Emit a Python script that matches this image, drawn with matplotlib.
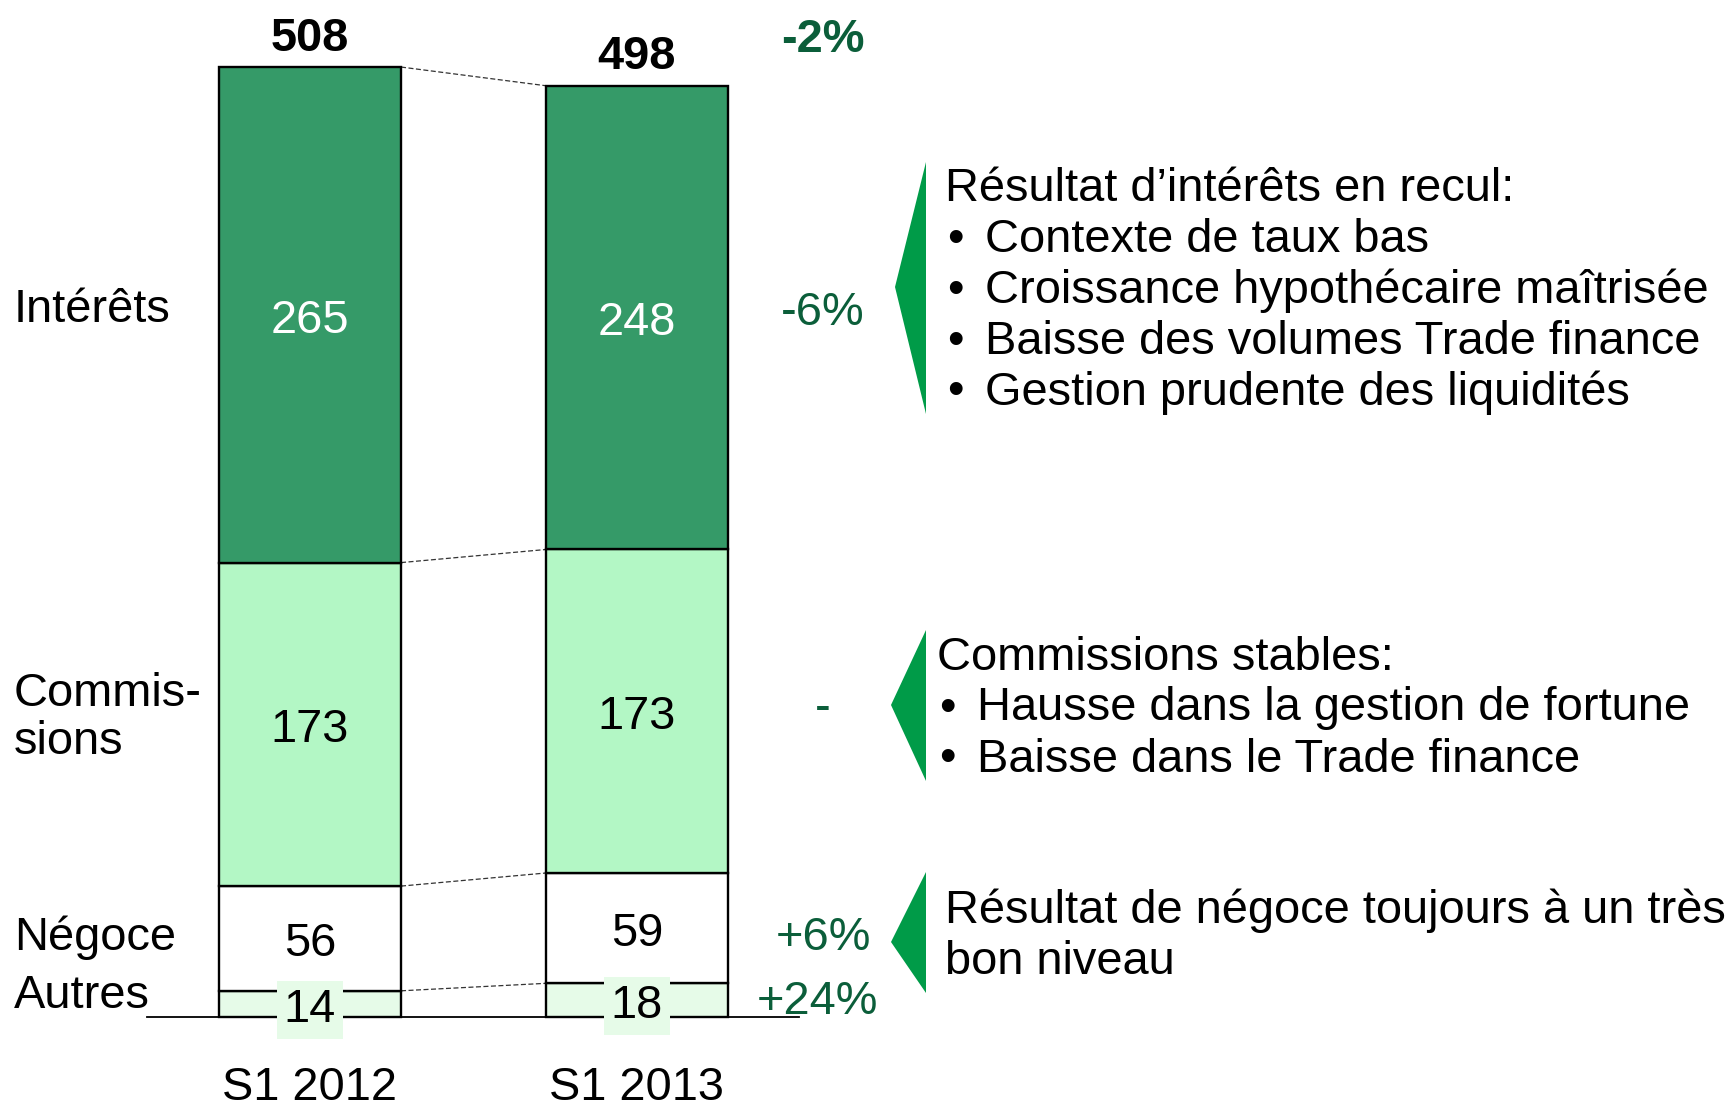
import matplotlib
matplotlib.use("Agg")
import matplotlib.pyplot as plt
from matplotlib.patches import Polygon
import numpy as np

# ---------------- data ----------------
periods = ["S1 2012", "S1 2013"]
categories = ["Autres", "Négoce", "Commissions", "Intérêts"]   # bottom -> top
autres = [14, 18]
negoce = [56, 59]
commissions = [173, 173]
interets = [265, 248]
changes = ["+24%", "+6%", "-", "-6%"]   # bottom -> top
total_change = "-2%"

block1 = ["Résultat d’intérêts en recul:",
          "Contexte de taux bas",
          "Croissance hypothécaire maîtrisée",
          "Baisse des volumes Trade finance",
          "Gestion prudente des liquidités"]
block2 = ["Commissions stables:",
          "Hausse dans la gestion de fortune",
          "Baisse dans le Trade finance"]
block3 = ["Résultat de négoce toujours à un très",
          "bon niveau"]

# ---------------- style ----------------
W, H = 1733, 1106
plt.rcParams['font.family'] = ['Liberation Sans', 'DejaVu Sans']
FS = 33.8
c_dark = "#359A68"
c_light = "#B3F7C5"
c_white = "#FFFFFF"
c_pale = "#E6FBE8"
c_tri = "#009B48"
c_pct = "#0B5E3A"
seg_colors = [c_pale, c_white, c_light, c_dark]
txt_colors = ["black", "black", "black", "white"]

fig = plt.figure(figsize=(W / 100, H / 100), dpi=100)
ax = fig.add_axes([0, 0, 1, 1])
ax.axis("off")
ax.set_xlim(-0.948, 4.352)
ax.set_ylim(-47.6, 543.85)

TOFF = 3.5            # text vertical correction in px
DOFF = TOFF / 1.87    # same in data units

def fx(px):
    return px / W

def fy(py):
    return 1 - (py + TOFF) / H

x = np.arange(len(periods))
bw = 0.557
series = [autres, negoce, commissions, interets]
bottom = np.zeros(len(periods))
tops = []
for vals, col, tc in zip(series, seg_colors, txt_colors):
    vals = np.array(vals, dtype=float)
    ax.bar(x, vals, bw, bottom=bottom, color=col, edgecolor="black",
           linewidth=1.7, zorder=2)
    for xi, b, v in zip(x, bottom, vals):
        kw = {}
        if col == c_pale:
            kw = dict(bbox=dict(boxstyle="square,pad=0.15", fc=c_pale, ec="none"))
        ax.text(xi, b + v / 2 - 1.2 - DOFF, f"{int(v)}", ha="center", va="center",
                fontsize=FS, color=tc, zorder=4, **kw)
    bottom = bottom + vals
    tops.append(bottom.copy())

# dashed connectors
for t in tops:
    ax.plot([x[0] + bw / 2, x[1] - bw / 2], [t[0], t[1]], ls=(0, (4, 2)),
            lw=0.9, color="#333333", zorder=1)

# totals
for xi, t in zip(x, bottom):
    ax.text(xi, t + 17 - DOFF, f"{int(t)}", ha="center", va="center",
            fontsize=FS, fontweight="bold", zorder=4)

# baseline
ax.plot([-0.498, 1.495], [0, 0], color="black", lw=1.3, zorder=3)

# x labels
for xi, p in zip(x, periods):
    ax.text(xi, -38, p, ha="center", va="center", fontsize=FS)

# left category labels
fig.text(fx(14), fy(307), "Intérêts", ha="left", va="center", fontsize=FS)
fig.text(fx(14), fy(690), "Commis-", ha="left", va="center", fontsize=FS)
fig.text(fx(14), fy(739), "sions", ha="left", va="center", fontsize=FS)
fig.text(fx(14), fy(934), "Négoce", ha="left", va="center", fontsize=FS)
fig.text(fx(14), fy(992), "Autres", ha="left", va="center", fontsize=FS)

# percent changes
fig.text(fx(823), fy(36.5), total_change, ha="center", va="center",
         fontsize=FS, fontweight="bold", color=c_pct)
pct_pos = [(817, 998), (823, 935), (823, 705), (823, 309.5)]
for (px, py), s in zip(pct_pos, changes):
    fig.text(fx(px), fy(py), s, ha="center", va="center", fontsize=FS, color=c_pct)

# triangles
tris = [[(895, 287), (926, 162), (926, 414)],
        [(891, 705), (926, 630), (926, 781)],
        [(891, 942), (926, 872), (926, 993)]]
for tri in tris:
    pts = [(px / W, 1 - py / H) for px, py in tri]
    fig.patches.append(Polygon(pts, closed=True, transform=fig.transFigure,
                               fc=c_tri, ec="none"))

# right text blocks
def block(lines, hx, bx, tx, y0, dy, bullets=True):
    fig.text(fx(hx), fy(y0), lines[0], ha="left", va="center", fontsize=FS)
    for i, l in enumerate(lines[1:]):
        yy = y0 + dy * (i + 1)
        if bullets:
            fig.text(fx(bx), fy(yy), "•", ha="left", va="center", fontsize=FS)
            fig.text(fx(tx), fy(yy), l, ha="left", va="center", fontsize=FS)
        else:
            fig.text(fx(hx), fy(yy), l, ha="left", va="center", fontsize=FS)

block(block1, 945, 947, 985, 185.7, 50.8)
block(block2, 937, 939, 977, 654, 51)
block(block3, 945, 945, 945, 907, 51, bullets=False)

fig.savefig("out.png", dpi=100)
